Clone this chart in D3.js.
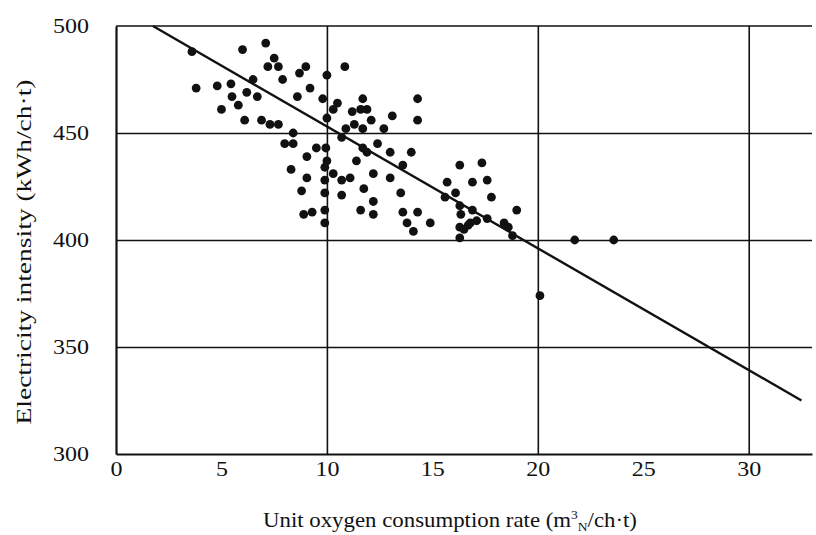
<!DOCTYPE html>
<html>
<head>
<meta charset="utf-8">
<script src="https://cdn.jsdelivr.net/npm/d3@7"></script>
<style>
  body { margin: 0; background: #fff; }
  text { font-family: "Liberation Serif", "DejaVu Serif", serif; fill: #111; }
</style>
</head>
<body>
<div id="chart"></div>
<script>
// oxygen consumption (m3N/ch.t) vs electricity intensity (kWh/ch.t)
const oxygen = [
  3.6, 6.0, 7.1, 7.5, 7.2, 7.7, 9.0, 8.7, 10.85, 10.0,
  7.9, 6.5, 3.8, 4.8, 5.45, 5.5, 6.2, 6.7, 8.6, 9.2,
  5.0, 5.8, 6.1, 6.9, 7.3, 7.7, 9.8, 10.5, 10.3, 10.0,
  11.7, 11.2, 11.6, 11.9, 12.1, 13.1, 10.9, 11.3, 11.7, 12.7,
  8.4, 8.0, 8.4, 9.5, 9.95, 10.7, 11.7, 11.9, 12.4, 13.0,
  9.05, 10.0, 11.4, 8.3, 9.05, 9.9, 9.9, 10.3, 10.7, 11.1,
  12.2, 13.0, 8.8, 9.9, 10.7, 11.75, 12.2, 8.9, 9.3, 9.9,
  9.9, 11.6, 12.2, 13.5, 14.3, 14.3, 14.0, 13.6, 16.3, 17.35,
  17.6, 15.7, 16.9, 16.1, 17.8, 19.0, 13.6, 14.3, 13.8, 14.1,
  14.9, 16.3, 16.35, 16.3, 16.3, 16.9, 17.1, 16.8, 17.6, 18.4,
  18.6, 18.8, 21.75, 23.6, 20.1, 15.6, 16.7, 16.5
];
const electricity = [
  488, 489, 492, 485, 481, 481, 481, 478, 481, 477,
  475, 475, 471, 472, 473, 467, 469, 467, 467, 471,
  461, 463, 456, 456, 454, 454, 466, 464, 461, 457,
  466, 460, 461, 461, 456, 458, 452, 454, 452, 452,
  450, 445, 445, 443, 443, 448, 443, 441, 445, 441,
  439, 437, 437, 433, 429, 434, 428, 431, 428, 429,
  431, 429, 423, 422, 421, 424, 418, 412, 413, 414,
  408, 414, 412, 422, 466, 456, 441, 435, 435, 436,
  428, 427, 427, 422, 420, 414, 413, 413, 408, 404,
  408, 416, 412, 406, 401, 414, 409, 408, 410, 408,
  406, 402, 400, 400, 374, 420, 407, 405
];

// fitted line end points
const fitX = [1.75, 32.5];
const fitY = [500, 325];

const xTicks = [0, 5, 10, 15, 20, 25, 30];
const yTicks = [300, 350, 400, 450, 500];
const xGrid = [10, 20, 30];
const yGrid = [350, 400, 450];

const width = 816, height = 535;
const m = { left: 116, right: 812, top: 26, bottom: 454 };

const svg = d3.select("#chart").append("svg")
    .attr("width", width)
    .attr("height", height);

const x = d3.scaleLinear().domain([0, 33]).range([m.left, m.right]);
const y = d3.scaleLinear().domain([300, 500]).range([m.bottom, m.top]);

// the scanned lettering is a bit wide, so stretch the labels
function widen(sel) {
    sel.attr("font-size", 21)
        .style("font-family", "Liberation Serif")
        .attr("textLength", d => String(d).length * 12)
        .attr("lengthAdjust", "spacingAndGlyphs");
}

// grid lines
svg.append("g")
    .attr("transform", "translate(0," + m.bottom + ")")
    .call(d3.axisBottom(x).tickValues(xGrid).tickSize(-(m.bottom - m.top)).tickFormat(""))
    .call(g => g.select(".domain").remove())
    .selectAll("line")
    .attr("stroke", "#111")
    .attr("stroke-width", 1.6);

svg.append("g")
    .attr("transform", "translate(" + m.left + ",0)")
    .call(d3.axisLeft(y).tickValues(yGrid).tickSize(-(m.right - m.left)).tickFormat(""))
    .call(g => g.select(".domain").remove())
    .selectAll("line")
    .attr("stroke", "#111")
    .attr("stroke-width", 1.4);

// top border
svg.append("line")
    .attr("x1", x(0)).attr("x2", x(33))
    .attr("y1", y(500)).attr("y2", y(500))
    .attr("stroke", "#111").attr("stroke-width", 1.6);

// axes with labels
const xAxis = svg.append("g")
    .attr("transform", "translate(0," + m.bottom + ")")
    .call(d3.axisBottom(x).tickValues(xTicks).tickSize(0).tickSizeOuter(0).tickPadding(7));
xAxis.select(".domain").attr("stroke", "#111").attr("stroke-width", 2);
xAxis.selectAll("text").call(widen);

const yAxis = svg.append("g")
    .attr("transform", "translate(" + m.left + ",0)")
    .call(d3.axisLeft(y).tickValues(yTicks).tickSize(0).tickSizeOuter(0).tickPadding(27));
yAxis.select(".domain").attr("stroke", "#111").attr("stroke-width", 2.2);
yAxis.selectAll("text").call(widen);

// regression line
svg.append("line")
    .attr("x1", x(fitX[0])).attr("y1", y(fitY[0]))
    .attr("x2", x(fitX[1])).attr("y2", y(fitY[1]))
    .attr("stroke", "#111")
    .attr("stroke-width", 2.4);

// points
svg.append("g").selectAll("circle")
    .data(oxygen)
    .enter().append("circle")
    .attr("cx", d => x(d))
    .attr("cy", (d, i) => y(electricity[i]))
    .attr("r", 4.4)
    .attr("fill", "#111");

// titles
const xt = svg.append("text")
    .attr("x", 450)
    .attr("y", 527)
    .attr("text-anchor", "middle")
    .attr("font-size", 22)
    .attr("textLength", 374)
    .attr("lengthAdjust", "spacingAndGlyphs");
xt.append("tspan").text("Unit oxygen consumption rate (m");
xt.append("tspan").text("3").attr("font-size", 13).attr("dy", -8);
xt.append("tspan").text("N").attr("font-size", 13).attr("dy", 12);
xt.append("tspan").text("/ch·t)").attr("font-size", 22).attr("dy", -4);

svg.append("text")
    .attr("transform", "translate(31,252) rotate(-90)")
    .attr("text-anchor", "middle")
    .attr("font-size", 22)
    .attr("textLength", 345)
    .attr("lengthAdjust", "spacingAndGlyphs")
    .text("Electricity intensity (kWh/ch·t)");
</script>
</body>
</html>
